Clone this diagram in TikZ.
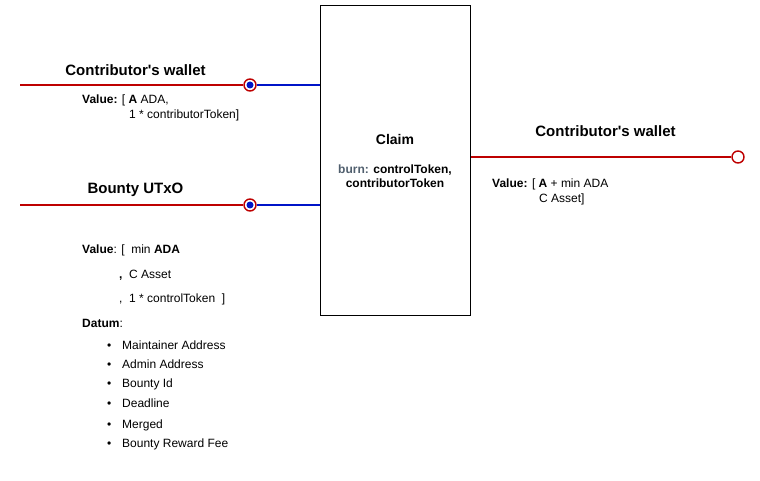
\documentclass[tikz,border=0pt]{standalone}
\usepackage{fontspec}
\setmainfont{Liberation Sans}
\definecolor{wirered}{RGB}{190,0,0}
\definecolor{wireblue}{RGB}{0,20,200}
\definecolor{burngray}{RGB}{80,95,110}

\begin{document}
\begin{tikzpicture}[x=1pt,y=-1pt,
    title/.style={font=\fontsize{15}{18}\selectfont\bfseries},
    txt/.style={font=\fontsize{12}{15}\selectfont,align=left,anchor=base west,inner sep=0pt},
    port/.style={circle,draw=wirered,line width=1.4pt,fill=white,minimum size=12pt,inner sep=0pt},
    dot/.style={circle,fill=wireblue,minimum size=7pt,inner sep=0pt},
    redline/.style={wirered,line width=1.5pt},
    blueline/.style={wireblue,line width=1.5pt}]
            \useasboundingbox (0,0) rectangle (760,481);
            % the claim transaction
            \node (box) at (395.5,160.5) [draw,line width=0.8pt,minimum width=150pt,minimum height=310pt] {};
            \node (claim) at (395,139) [font=\fontsize{14}{17}\selectfont\bfseries] {Claim};
            \node (burn) at (395,176) [font=\fontsize{12}{14}\selectfont\bfseries,align=center] {\textcolor{burngray}{burn:} controlToken,\\contributorToken};
            % inputs
            \coordinate (in1) at (20,85);
            \coordinate (in2) at (20,205);
            \node (p1) at (250,85) [port] {};
            \node (p2) at (250,205) [port] {};
            \node (d1) at (p1) [dot] {};
            \node (d2) at (p2) [dot] {};
            \draw[redline] (in1) -- (p1) (in2) -- (p2);
            \draw[blueline] (p1) -- (p1 -| box.west) (p2) -- (p2 -| box.west);
            \node (w1) at (135.5,70) [title] {Contributor\textquotesingle s wallet};
            \node (v1) at (82,118.5) [txt] {\textbf{Value:} [ \textbf{A} ADA,\\\hspace*{47pt}1 * contributorToken]};
            \node (u1) at (135.5,190) [title] {Bounty UTxO};
            \node (v2) at (82,327.5) [txt,font=\fontsize{12}{24.7}\selectfont] {\textbf{Value}: [\ \ min \textbf{ADA}\\\hspace*{37pt}\textbf{,}\ \ C Asset\\\hspace*{37pt},\ \ 1 * controlToken\ \ ]\\\textbf{Datum}:};
            \foreach \y/\t in {349.5/Maintainer Address,368.5/Admin Address,387.5/Bounty Id,407.5/Deadline,428.5/Merged,447.5/Bounty Reward Fee}
                \node (b\y) at (107,\y) [txt] {\makebox[15pt][l]{\textbullet}\t};
            % output
            \node (p3) at (738,157) [port] {};
            \draw[redline] (box.east |- p3) -- (p3);
            \node (w2) at (605.5,131) [title] {Contributor\textquotesingle s wallet};
            \node (v3) at (492,202.5) [txt] {\textbf{Value:} [ \textbf{A} + min ADA\\\hspace*{47pt}C Asset]};
        \end{tikzpicture}
\end{document}
